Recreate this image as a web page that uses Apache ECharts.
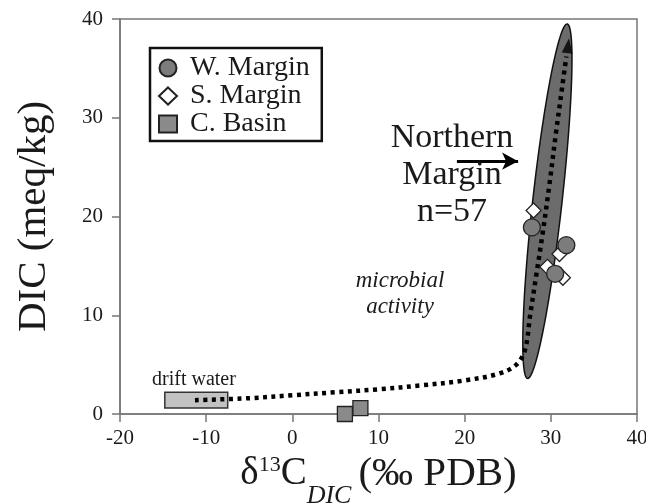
<!DOCTYPE html>
<html><head><meta charset="utf-8">
<script src="https://cdn.jsdelivr.net/npm/echarts@6/dist/echarts.min.js"></script>
<style>html,body{margin:0;padding:0;background:#fff}#c{width:646px;height:503px}</style>
</head><body><div id="c"></div>
<script>
// ---- data (axis units: x = δ13C ‰ PDB, y = DIC meq/kg) ----
const wMargin = [[27.8, 18.9], [31.8, 17.1], [30.5, 14.2]];
const sMargin = [[28.0, 20.6], [31.0, 16.2], [31.4, 13.8], [29.6, 14.9]];
const cBasin = [[6.1, 0.0], [7.9, 0.6]];
const mixingPath = [[-11.3, 1.4], [-5, 1.6], [0, 1.9], [5, 2.2], [10, 2.5], [15, 2.9], [20, 3.4], [24, 4.1], [26, 5.0], [27, 6.5], [27.6, 10], [28.3, 14], [29, 18], [29.8, 23], [30.6, 28.5], [31.3, 33], [31.8, 36.2]];
const pathArrowTip = [[32.0, 37.3]];
// ellipse: top tip x,y ; bottom tip x,y ; half width (δ13C units)
const northernEllipse = [[31.9, 39.5, 27.3, 3.6, 1.7]];
// drift water box: x1, y1, x2, y2
const driftWaterBox = [[-14.8, 2.2, -7.5, 0.6]];
const northernArrow = [[19.1, 25.6], [26.2, 25.6]];
const xRange = { min: -20, max: 40, interval: 10 };
const yRange = { min: 0, max: 40, interval: 10 };
const legendNames = ['W. Margin', 'S. Margin', 'C. Basin'];

const FONT = 'Liberation Serif';
const TXT = '#1a1a1a';
const AX = '#777';

const chart = echarts.init(document.getElementById('c'), null, { renderer: 'canvas' });

const option = {
  backgroundColor: '#fff',
  animation: false,
  grid: { left: 120, right: 9, top: 19, bottom: 89, show: true, borderColor: AX, borderWidth: 1.5, containLabel: false, outerBoundsMode: 'none' },
  legend: {
    data: legendNames, orient: 'vertical', left: 150, top: 48,
    itemWidth: 18, itemHeight: 17, itemGap: 0,
    padding: [6, 12, 3, 8], borderColor: '#111', borderWidth: 2.5, backgroundColor: '#fff',
    selectedMode: false,
    textStyle: { fontFamily: FONT, fontSize: 28, color: TXT, lineHeight: 27, padding: [0, 0, 0, 8] }
  },
  xAxis: {
    type: 'value', min: xRange.min, max: xRange.max, interval: xRange.interval,
    splitLine: { show: false },
    axisLine: { onZero: false, lineStyle: { color: AX, width: 1.5 } },
    axisTick: { length: 8, lineStyle: { color: AX, width: 1.5 } },
    axisLabel: { fontFamily: FONT, fontSize: 21, color: TXT, margin: 14 },
    name: '{a|δ}{sup|13}{a|C}{sub|DIC}{b|(‰ PDB)}',
    nameLocation: 'middle', nameGap: 35,
    nameTextStyle: {
      fontFamily: FONT, color: TXT,
      rich: {
        a: { fontFamily: FONT, fontSize: 39, color: TXT, lineHeight: 43, verticalAlign: 'top' },
        b: { fontFamily: FONT, fontSize: 41, color: TXT, lineHeight: 43, verticalAlign: 'top', padding: [0, 0, 0, 3] },
        sup: { fontFamily: FONT, fontSize: 22, color: TXT, lineHeight: 27, verticalAlign: 'top' },
        sub: { fontFamily: FONT, fontSize: 26, fontStyle: 'italic', color: TXT, lineHeight: 26, verticalAlign: 'top', padding: [29, 4, 0, 0] }
      }
    }
  },
  yAxis: {
    type: 'value', min: yRange.min, max: yRange.max, interval: yRange.interval,
    splitLine: { show: false },
    axisLine: { onZero: false, lineStyle: { color: AX, width: 1.5 } },
    axisTick: { length: 8, lineStyle: { color: AX, width: 1.5 } },
    axisLabel: { fontFamily: FONT, fontSize: 21, color: TXT, margin: 17 },
    name: 'DIC (meq/kg)', nameLocation: 'middle', nameGap: 65,
    nameTextStyle: { fontFamily: FONT, fontSize: 41, color: TXT }
  },
  graphic: [
    { type: 'text', x: 452, y: 120, z: 100, style: { text: 'Northern\nMargin\nn=57', font: '34px "Liberation Serif"', fill: TXT, textAlign: 'center', verticalAlign: 'top', lineHeight: 37 } },
    { type: 'text', x: 400, y: 268, z: 100, style: { text: 'microbial\nactivity', font: 'italic 23px "Liberation Serif"', fill: TXT, textAlign: 'center', verticalAlign: 'top', lineHeight: 26 } },
    { type: 'text', x: 152, y: 370, z: 100, style: { text: 'drift water', font: '20px "Liberation Serif"', fill: TXT, textAlign: 'left', verticalAlign: 'top', lineHeight: 20 } }
  ],
  series: [
    {
      name: 'ellipse', type: 'custom', z: 1, silent: true,
      data: northernEllipse, encode: { x: [0, 2], y: [1, 3] },
      renderItem: function (params, api) {
        const p1 = api.coord([api.value(0), api.value(1)]);
        const p2 = api.coord([api.value(2), api.value(3)]);
        const b = api.size([api.value(4), 0])[0];
        const cx = (p1[0] + p2[0]) / 2, cy = (p1[1] + p2[1]) / 2;
        const a = Math.hypot(p1[0] - p2[0], p1[1] - p2[1]) / 2;
        const ang = Math.atan2(p1[1] - p2[1], p1[0] - p2[0]);
        const pts = [];
        for (let i = 0; i < 120; i++) {
          const t = i / 120 * 2 * Math.PI;
          const u = a * Math.cos(t), v = b * Math.sin(t);
          pts.push([cx + u * Math.cos(ang) - v * Math.sin(ang), cy + u * Math.sin(ang) + v * Math.cos(ang)]);
        }
        return { type: 'polygon', shape: { points: pts }, style: { fill: '#6c6c6c', stroke: '#111', lineWidth: 1.5 } };
      }
    },
    {
      name: 'drift', type: 'custom', z: 2, silent: true,
      data: driftWaterBox, encode: { x: [0, 2], y: [1, 3] },
      renderItem: function (params, api) {
        const p1 = api.coord([api.value(0), api.value(1)]);
        const p2 = api.coord([api.value(2), api.value(3)]);
        return { type: 'rect', shape: { x: p1[0], y: p1[1], width: p2[0] - p1[0], height: p2[1] - p1[1] }, style: { fill: '#c2c2c2', stroke: '#333', lineWidth: 1.5 } };
      }
    },
    {
      name: 'path', type: 'line', z: 3, silent: true, data: mixingPath, smooth: 0.35, symbol: 'none',
      lineStyle: { color: '#000', width: 4.5, type: [4, 4.5], cap: 'butt' }
    },
    {
      name: 'pathTip', type: 'scatter', z: 4, silent: true, data: pathArrowTip,
      symbol: 'triangle', symbolSize: [11, 15], symbolRotate: -7,
      itemStyle: { color: '#000' }
    },
    {
      name: 'arrow', type: 'line', z: 5, silent: true, data: [], symbol: 'none',
      markLine: {
        silent: true, symbol: ['none', 'arrow'], symbolSize: [13, 16], label: { show: false },
        lineStyle: { color: '#000', width: 3, type: 'solid' },
        data: [[{ coord: northernArrow[0] }, { coord: northernArrow[1] }]]
      }
    },
    {
      name: 'C. Basin', type: 'scatter', z: 6, data: cBasin, symbol: 'rect', symbolSize: 15,
      itemStyle: { color: '#8a8a8a', borderColor: '#222', borderWidth: 1.3, opacity: 1 }
    },
    {
      name: 'S. Margin', type: 'scatter', z: 6, data: sMargin, symbol: 'diamond', symbolSize: 15,
      itemStyle: { color: '#fff', borderColor: '#222', borderWidth: 1.3, opacity: 1 }
    },
    {
      name: 'W. Margin', type: 'scatter', z: 7, data: wMargin, symbol: 'circle', symbolSize: 17,
      itemStyle: { color: '#7c7c7c', borderColor: '#222', borderWidth: 1.3, opacity: 1 }
    }
  ]
};
chart.setOption(option);
</script>
</body></html>
